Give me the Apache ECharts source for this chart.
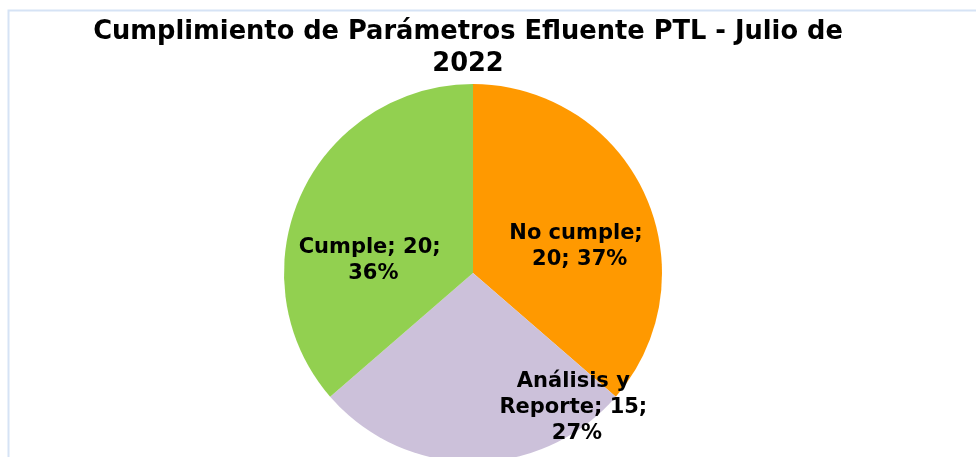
<!DOCTYPE html>
<html>
<head>
<meta charset="utf-8">
<script src="https://cdn.jsdelivr.net/npm/echarts@6/dist/echarts.min.js"></script>
<style>
  html, body { margin: 0; padding: 0; background: #fff; }
  #main { width: 976px; height: 457px; }
</style>
</head>
<body>
<div id="main"></div>
<script>
(function () {
  'use strict';

  var titleText = 'Cumplimiento de Parámetros Efluente PTL - Julio de\n2022';
  var categories = ['No cumple', 'Análisis y Reporte', 'Cumple'];
  var values = [20, 15, 20];
  var colors = ['#FF9900', '#CCC1DA', '#92D050'];

  // nudges from the default inside position, to sit labels like the original
  var labelOffsets = [[18, 14], [104, 37], [-11, 28]];

  var data = categories.map(function (name, i) {
    return {
      name: name,
      value: values[i],
      itemStyle: { color: colors[i] },
      label: { offset: labelOffsets[i] }
    };
  });

  var myChart = echarts.init(document.getElementById('main'));
  var option = {
    animation: false,
    backgroundColor: '#fff',
    title: {
      text: titleText,
      left: 463,
      top: 11,
      textAlign: 'center',
      textStyle: {
        fontFamily: 'DejaVu Sans',
        fontWeight: 'bold',
        fontSize: 25.7,
        lineHeight: 32,
        color: '#000'
      }
    },
    graphic: [{
      type: 'rect',
      shape: { x: 8.5, y: 10.5, width: 980, height: 460 },
      style: { fill: 'none', stroke: '#D6E3F5', lineWidth: 2 },
      silent: true,
      z: -1
    }],
    series: [{
      name: 'Cumplimiento',
      type: 'pie',
      center: [473, 273],
      radius: 189,
      startAngle: 90,
      clockwise: true,
      percentPrecision: 0,
      label: {
        show: true,
        position: 'inside',
        formatter: '{b}; {c}; {d}%',
        width: 158,
        overflow: 'break',
        align: 'center',
        fontFamily: 'DejaVu Sans',
        fontWeight: 'bold',
        fontSize: 21,
        lineHeight: 26,
        color: '#000'
      },
      labelLine: { show: false },
      emphasis: { disabled: true },
      data: data
    }]
  };
  myChart.setOption(option);
})();
</script>
</body>
</html>
